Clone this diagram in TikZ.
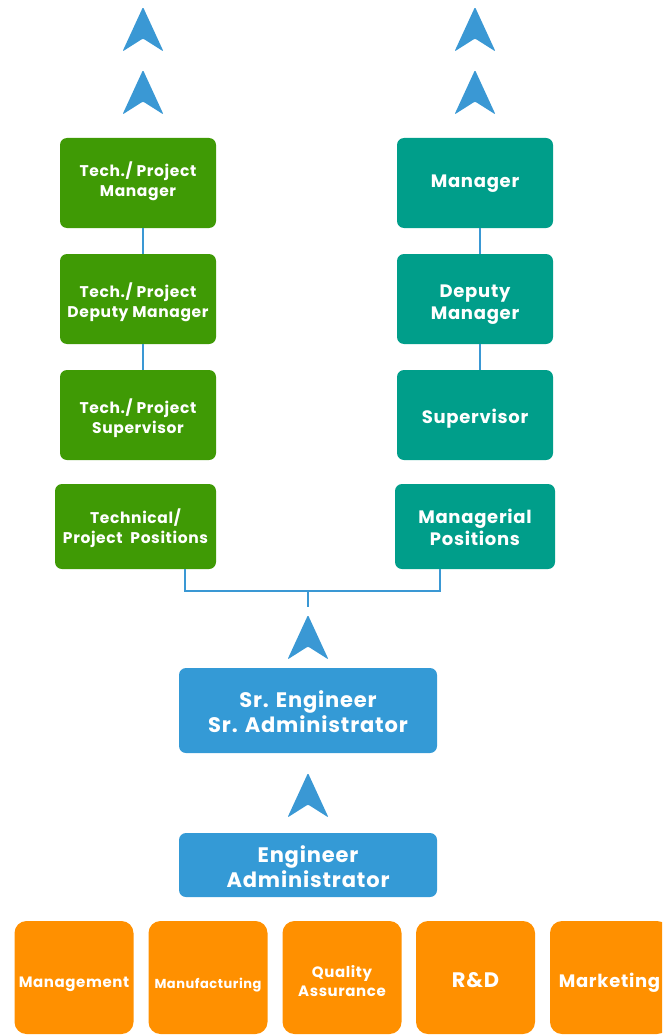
\documentclass[tikz,border=0pt]{standalone}
\usepackage{fontspec}
\setmainfont{Poppins}[LetterSpace=4]
\usepackage{tikz}
\usetikzlibrary{positioning,calc}
\definecolor{techgreen}{RGB}{63,154,5}
\definecolor{mgrteal}{RGB}{0,158,138}
\definecolor{engblue}{RGB}{52,154,214}
\definecolor{deptorange}{RGB}{255,144,0}
\definecolor{linkblue}{RGB}{58,152,212}
% chevron pointing up, tip at (#1,#2)
\newcommand{\upmark}[2]{\fill[linkblue, rounded corners=1.2] (#1,#2) -- ++(20.5,44.5) -- ++(-20.5,-13) -- ++(-20.5,13) -- cycle}

\begin{document}
\begin{tikzpicture}[
x=1pt, y=-1pt,
% text block sits #1 pt below the box centre (one line / two lines)
drop/.style={execute at begin node={\rule{0pt}{\dimexpr #1pt*2+1.15em\relax}}, execute at end node={\rule[-0.45em]{0pt}{0pt}}},
twoline/.style={execute at begin node={\rule{0pt}{\dimexpr #1pt*2+1.15em+\baselineskip\relax}}, execute at end node={\rule[-0.45em]{0pt}{0pt}}},
TechBox/.style={fill=techgreen,text=white,rounded corners=7,minimum width=156,minimum height=90,align=center,font=\bfseries\fontsize{15.5}{20}\selectfont},
MgrBox/.style={fill=mgrteal,text=white,rounded corners=7,minimum width=156,minimum height=90,align=center,font=\bfseries\fontsize{18}{22}\selectfont},
EngBox/.style={fill=engblue,text=white,rounded corners=7,minimum width=258,inner ysep=0,align=center,font=\bfseries\fontsize{21}{25}\selectfont},
DeptBox/.style={fill=deptorange,text=white,rounded corners=12,minimum width=119,minimum height=113,align=center},
Link/.style={draw=linkblue,line width=2}
]

\clip (0,0) rectangle (662,1035);

% upward marks
\upmark{143}{7};
\upmark{143}{70};
\upmark{475}{7};
\upmark{475}{70};
\upmark{308}{615};
\upmark{308}{773};

% technical ladder
\node[TechBox, twoline=-3] (tpm) at (138,183) {Tech./ Project\\Manager};
\node[TechBox, twoline=3] (tpdm) at (138,299) {Tech./ Project\\Deputy Manager};
\node[TechBox, twoline=3] (tps) at (138,415) {Tech./ Project\\Supervisor};
\node[TechBox, minimum width=161, minimum height=85, twoline=1.5] (tpp) at (135.5,526.5) {Technical/\\Project\ \ Positions};

% managerial ladder
\node[MgrBox, drop=-1.3] (mgr) at (475,183) {Manager};
\node[MgrBox, twoline=3.5] (dmgr) at (475,299) {Deputy\\Manager};
\node[MgrBox, drop=2] (sup) at (475,415) {Supervisor};
\node[MgrBox, minimum width=160, minimum height=85, twoline=1.3] (mpos) at (475,526.5) {Managerial\\Positions};

\draw[Link] ([xshift=5]tpm.south) -- ([xshift=5]tpdm.north);
\draw[Link] ([xshift=5]tpdm.south) -- ([xshift=5]tps.north);
\draw[Link] ([xshift=5]mgr.south) -- ([xshift=5]dmgr.north);
\draw[Link] ([xshift=5]dmgr.south) -- ([xshift=5]sup.north);

% split into the two ladders
\coordinate (split) at (308,591);
\coordinate (stub) at (308,607);
\draw[Link] ([xshift=49.5]tpp.south) |- (split) -| ([xshift=-35]mpos.south);
\draw[Link] (split) -- (stub);

% engineer levels
\node[EngBox, minimum height=85, twoline=2] (sreng) at (308,710.5) {Sr. Engineer\\Sr. Administrator};
\node[EngBox, minimum height=64, twoline=2.5] (eng) at (308,865) {Engineer\\Administrator};

% departments
\node[DeptBox, font=\bfseries\fontsize{15}{19}\selectfont, drop=4.5] (mgmt) at (74,977.5) {Management};
\node[DeptBox, font=\bfseries\fontsize{13}{17}\selectfont, drop=6] (manuf) at (208,977.5) {Manufacturing};
\node[DeptBox, font=\bfseries\fontsize{15}{19}\selectfont, twoline=4.3] (qa) at (342,977.5) {Quality\\Assurance};
\node[DeptBox, font=\bfseries\fontsize{21}{25}\selectfont, drop=3] (rnd) at (475.5,977.5) {R\&D};
\node[DeptBox, font=\bfseries\fontsize{18}{23}\selectfont, drop=4] (mkt) at (609.5,977.5) {Marketing};

\end{tikzpicture}
\end{document}
